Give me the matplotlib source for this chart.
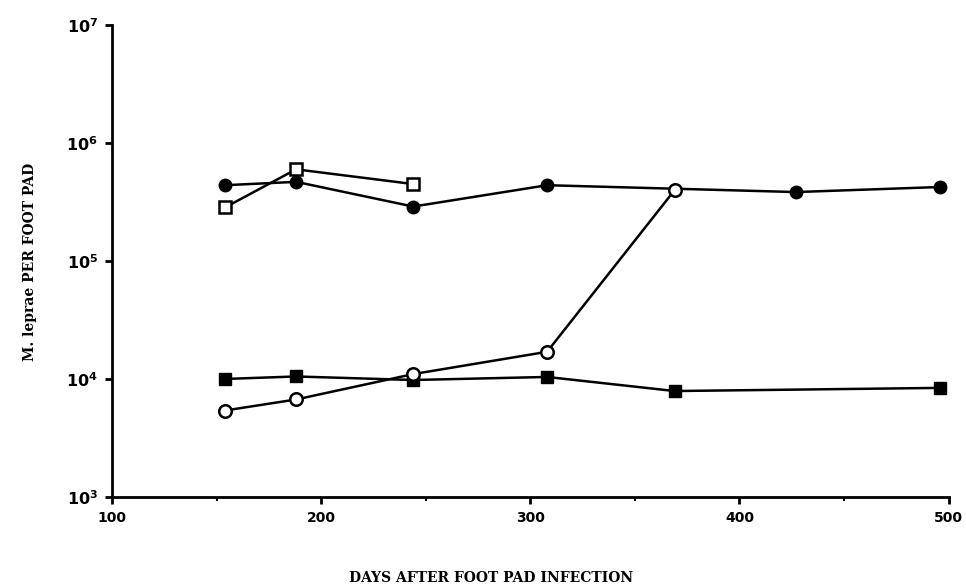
import numpy as np
import matplotlib
matplotlib.use('Agg')
from matplotlib import pyplot as plt

# days after foot pad infection and bacilli counts
days_fc = [154, 188, 244, 308, 427, 496]
fc = [4.4e5, 4.7e5, 2.9e5, 4.4e5, 3.85e5, 4.25e5]  # filled circles

days_os = [154, 188, 244]
os_ = [2.85e5, 6.0e5, 4.5e5]  # open squares

days_oc = [154, 188, 244, 308, 369]
oc = [5.4e3, 6.7e3, 1.1e4, 1.7e4, 4.0e5]  # open circles

days_fs = [154, 188, 244, 308, 369, 496]
fs = [1.0e4, 1.05e4, 9.8e3, 1.04e4, 7.9e3, 8.4e3]  # filled squares

xticks = [100, 200, 300, 400, 500]
yticks = [1e3, 1e4, 1e5, 1e6, 1e7]
ytick_labels = [r'$\mathbf{10^{%d}}$' % e for e in range(3, 8)]

fig = plt.figure(figsize=(9.66, 5.88), dpi=100)
ax = fig.add_axes([0.116, 0.155, 0.866, 0.802])

ms = 9
lw = 1.8
ax.plot(days_fc, fc, '-o', color='k', lw=lw, ms=ms, mfc='k', mec='k', zorder=3)
ax.plot(days_os, os_, '-s', color='k', lw=lw, ms=ms - 1, mfc='white', mec='k', mew=1.8, zorder=4)
ax.plot(days_fs, fs, '-s', color='k', lw=lw, ms=ms, mfc='k', mec='k', zorder=3)
ax.plot(days_oc, oc, '-o', color='k', lw=lw, ms=ms, mfc='white', mec='k', mew=1.8, zorder=4)

ax.set_yscale('log')
ax.set_xlim(100, 500)
ax.set_ylim(1e3, 1e7)
ax.set_xticks(xticks)
ax.set_xticks([150, 250, 350, 450], minor=True)
ax.set_yticks(yticks)
ax.set_yticklabels(ytick_labels, fontsize=11.5)
ax.yaxis.set_minor_locator(matplotlib.ticker.NullLocator())
ax.set_xticklabels([str(t) for t in xticks], fontsize=10, fontweight='bold')

for s in ['top', 'right']:
    ax.spines[s].set_visible(False)
for s in ['left', 'bottom']:
    ax.spines[s].set_linewidth(2)

ax.tick_params(axis='both', which='major', direction='out', length=5, width=2, pad=5)
ax.tick_params(axis='x', which='minor', direction='out', length=3, width=1.5)

fig.text(0.031, 0.555, 'M. leprae PER FOOT PAD', rotation=90, ha='center', va='center',
         fontsize=10, fontweight='bold', family='DejaVu Serif')
fig.text(0.508, 0.017, 'DAYS AFTER FOOT PAD INFECTION', ha='center', va='center',
         fontsize=10, fontweight='bold', family='DejaVu Serif')

plt.savefig('out.png', dpi=100)
